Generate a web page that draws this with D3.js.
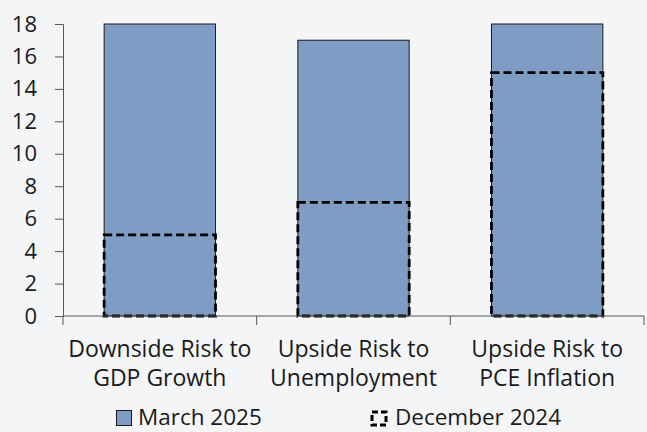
<!DOCTYPE html>
<html>
<head>
  <meta charset="utf-8">
  <script src="https://cdn.jsdelivr.net/npm/d3@7"></script>
  <style>
    body { margin: 0; background: #f4f5f7; }
    text { font-family: "Open Sans", "Noto Sans", sans-serif; fill: #1a1a1a; }
  </style>
</head>
<body>
  <svg id="chart" width="647" height="432"></svg>
  <script>
    // data
    const categories = [
      ["Downside Risk to", "GDP Growth"],
      ["Upside Risk to", "Unemployment"],
      ["Upside Risk to", "PCE Inflation"]
    ];
    const march2025 = [18, 17, 18];
    const december2024 = [5, 7, 15];
    const yTicks = [0, 2, 4, 6, 8, 10, 12, 14, 16, 18];

    const svg = d3.select("#chart");
    const mLeft = 63, mRight = 644, mTop = 24, mBottom = 316;

    const x = d3.scaleBand()
      .domain(d3.range(categories.length))
      .range([mLeft, mRight])
      .paddingInner(0.425)
      .paddingOuter(0.2125);
    const step = (mRight - mLeft) / categories.length;

    const y = d3.scaleLinear().domain([0, 18]).range([mBottom, mTop]);

    // bars: March 2025
    svg.selectAll("rect.mar")
      .data(march2025)
      .enter().append("rect")
      .attr("class", "mar")
      .attr("x", (d, i) => x(i))
      .attr("width", x.bandwidth())
      .attr("y", d => y(d))
      .attr("height", d => y(0) - y(d))
      .attr("fill", "#7f9dc4")
      .attr("stroke", "#1a1a1a")
      .attr("stroke-width", 1);

    // dashed outlines: December 2024
    svg.selectAll("rect.dec")
      .data(december2024)
      .enter().append("rect")
      .attr("class", "dec")
      .attr("x", (d, i) => x(i))
      .attr("width", x.bandwidth())
      .attr("y", d => y(d))
      .attr("height", d => y(0) - y(d))
      .attr("fill", "none")
      .attr("stroke", "#000")
      .attr("stroke-width", 2.8)
      .attr("stroke-dasharray", "8,4");

    // y axis
    const yAxis = svg.append("g")
      .attr("transform", `translate(${mLeft},0)`)
      .call(d3.axisLeft(y).tickValues(yTicks).tickSize(8).tickPadding(18));
    yAxis.select(".domain").attr("stroke", "#555");
    yAxis.selectAll(".tick line").attr("stroke", "#555");
    yAxis.selectAll("text")
      .style("font-size", "22px")
      .style("font-family", "'Open Sans', sans-serif")
      .attr("fill", "#1a1a1a");

    // x axis line with category boundary ticks
    svg.append("line")
      .attr("x1", mLeft).attr("x2", mRight)
      .attr("y1", mBottom).attr("y2", mBottom)
      .attr("stroke", "#555");
    svg.selectAll("line.xt")
      .data(d3.range(0, categories.length + 1))
      .enter().append("line")
      .attr("x1", i => mLeft + i * step).attr("x2", i => mLeft + i * step)
      .attr("y1", mBottom).attr("y2", mBottom + 9)
      .attr("stroke", "#555");

    // category labels
    const lab = svg.selectAll("text.cat")
      .data(categories)
      .enter().append("text")
      .attr("class", "cat")
      .attr("text-anchor", "middle")
      .style("font-size", "23px");
    lab.each(function(d, i) {
      const t = d3.select(this);
      d.forEach((line, j) => {
        t.append("tspan")
          .attr("x", x(i) + x.bandwidth() / 2)
          .attr("y", 357 + j * 29)
          .text(line);
      });
    });

    // legend
    svg.append("rect")
      .attr("x", 116.5).attr("y", 410.5).attr("width", 15).attr("height", 15)
      .attr("fill", "#7f9dc4").attr("stroke", "#1a1a1a").attr("stroke-width", 1);
    svg.append("text").attr("x", 138).attr("y", 425)
      .style("font-size", "22.5px").text("March 2025");
    svg.append("rect")
      .attr("x", 372).attr("y", 412).attr("width", 14).attr("height", 13)
      .attr("fill", "none").attr("stroke", "#000").attr("stroke-width", 3)
      .attr("stroke-dasharray", "6,3");
    svg.append("text").attr("x", 395).attr("y", 425)
      .style("font-size", "22.5px").text("December 2024");
  </script>
</body>
</html>
